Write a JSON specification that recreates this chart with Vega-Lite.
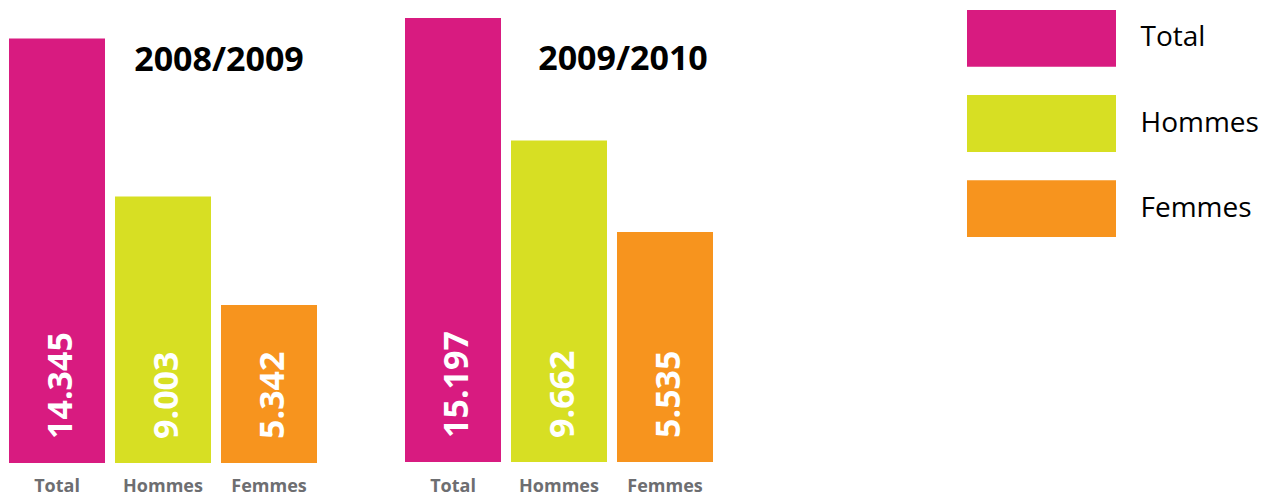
{
  "$schema": "https://vega.github.io/schema/vega-lite/v6.json",
  "padding": {"left": 9, "top": 10, "right": 0, "bottom": 0},
  "background": "white",
  "config": {
    "view": {"stroke": null},
    "font": "Open Sans",
    "locale": {"number": {"decimal": ",", "thousands": ".", "grouping": [3], "currency": ["", " €"]}}
  },
  "datasets": {
    "annee_2008_2009": [
      {"categorie": "Total", "valeur": 14345},
      {"categorie": "Hommes", "valeur": 9003},
      {"categorie": "Femmes", "valeur": 5342}
    ],
    "annee_2009_2010": [
      {"categorie": "Total", "valeur": 15197},
      {"categorie": "Hommes", "valeur": 9662},
      {"categorie": "Femmes", "valeur": 5535}
    ],
    "legende": [
      {"categorie": "Total"},
      {"categorie": "Hommes"},
      {"categorie": "Femmes"}
    ]
  },
  "resolve": {"scale": {"x": "independent", "y": "independent"}},
  "spacing": 254,
  "hconcat": [
    {
      "resolve": {"scale": {"x": "independent", "y": "independent"}},
      "spacing": 88,
      "hconcat": [
        {
          "width": 308,
          "height": 453,
          "data": {"name": "annee_2008_2009"},
          "title": {"text": "2008/2009", "fontSize": 34, "fontWeight": "bold", "color": "black", "font": "Open Sans", "anchor": "middle", "dx": 56, "offset": -95, "baseline": "alphabetic"},
          "encoding": {
            "x": {"field": "categorie", "type": "nominal", "sort": ["Total", "Hommes", "Femmes"],
              "scale": {"paddingInner": 0.0943, "paddingOuter": 0},
              "axis": {"title": null, "labelAngle": 0, "domain": false, "ticks": false, "tickSize": 0, "labelPadding": 14, "labelFontSize": 18, "labelFontWeight": "bold", "labelColor": "#6d6e71", "labelFont": "Open Sans"}}
          },
          "layer": [
            {
              "mark": {"type": "bar"},
              "encoding": {
                "y": {"field": "valeur", "type": "quantitative", "scale": {"domain": [0, 15310], "nice": false}, "axis": null},
                "color": {"field": "categorie", "type": "nominal", "scale": {"domain": ["Total", "Hommes", "Femmes"], "range": ["#d81b80", "#d7df23", "#f7941e"]}, "legend": null}
              }
            },
            {
              "mark": {"type": "text", "angle": 270, "align": "left", "baseline": "alphabetic", "dx": 24, "dy": 15, "fontSize": 34, "fontWeight": "bold", "color": "white", "font": "Open Sans"},
              "encoding": {
                "y": {"datum": 0, "type": "quantitative"},
                "text": {"field": "valeur", "type": "quantitative", "format": ",d"}
              }
            }
          ]
        },
        {
          "width": 308,
          "height": 453,
          "data": {"name": "annee_2009_2010"},
          "title": {"text": "2009/2010", "fontSize": 34, "fontWeight": "bold", "color": "black", "font": "Open Sans", "anchor": "middle", "dx": 64, "offset": -94, "baseline": "alphabetic"},
          "encoding": {
            "x": {"field": "categorie", "type": "nominal", "sort": ["Total", "Hommes", "Femmes"],
              "scale": {"paddingInner": 0.0943, "paddingOuter": 0},
              "axis": {"title": null, "labelAngle": 0, "domain": false, "ticks": false, "tickSize": 0, "labelPadding": 14, "labelFontSize": 18, "labelFontWeight": "bold", "labelColor": "#6d6e71", "labelFont": "Open Sans"}}
          },
          "layer": [
            {
              "mark": {"type": "bar"},
              "encoding": {
                "y": {"field": "valeur", "type": "quantitative", "scale": {"domain": [-4893, 15558], "nice": false, "zero": false}, "axis": null},
                "y2": {"datum": -4848},
                "color": {"field": "categorie", "type": "nominal", "scale": {"domain": ["Total", "Hommes", "Femmes"], "range": ["#d81b80", "#d7df23", "#f7941e"]}, "legend": null}
              }
            },
            {
              "mark": {"type": "text", "angle": 270, "align": "left", "baseline": "alphabetic", "dx": 24, "dy": 15, "fontSize": 34, "fontWeight": "bold", "color": "white", "font": "Open Sans"},
              "encoding": {
                "y": {"datum": -4848, "type": "quantitative"},
                "text": {"field": "valeur", "type": "quantitative", "format": ",d"}
              }
            }
          ]
        }
      ]
    },
    {
      "width": 149,
      "height": 227,
      "data": {"name": "legende"},
      "mark": {"type": "bar"},
      "encoding": {
        "y": {"field": "categorie", "type": "nominal", "sort": ["Total", "Hommes", "Femmes"],
          "scale": {"paddingInner": 0.333, "paddingOuter": 0},
          "axis": {"orient": "right", "title": null, "domain": false, "ticks": false, "tickSize": 0, "labelPadding": 24, "labelFontSize": 28, "labelColor": "black", "labelFont": "Open Sans", "labelFontWeight": "normal", "labelBaseline": "alphabetic", "labelOffset": 8}},
        "x": {"datum": 1, "type": "quantitative", "scale": {"domain": [0, 1], "nice": false}, "axis": null},
        "color": {"field": "categorie", "type": "nominal", "scale": {"domain": ["Total", "Hommes", "Femmes"], "range": ["#d81b80", "#d7df23", "#f7941e"]}, "legend": null}
      }
    }
  ]
}
